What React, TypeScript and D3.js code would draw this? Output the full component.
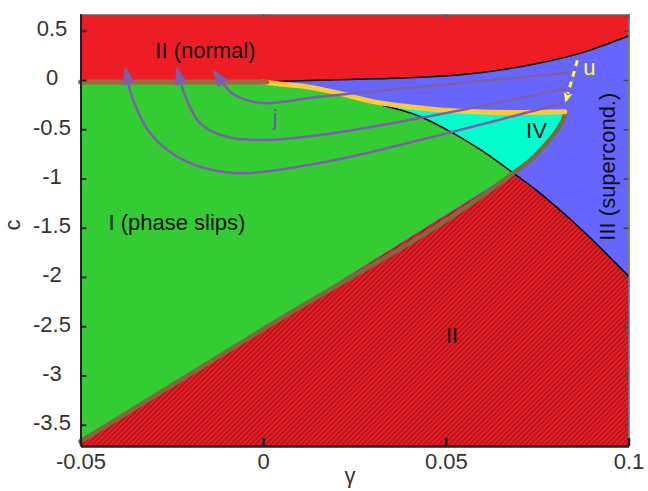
import * as d3 from 'd3'
import React, { useEffect, useRef } from 'react'

const WIDTH = 648
const HEIGHT = 491
const PLOT = { left: 80.5, right: 628.5, top: 14, bottom: 446 }
const FONT = '"Liberation Sans", Arial, Helvetica, sans-serif'

// axis ranges and ticks
const X_DOMAIN: [number, number] = [-0.05, 0.1]
const Y_DOMAIN: [number, number] = [-3.716, 0.67]
const X_TICKS = [-0.05, 0, 0.05, 0.1]
const Y_TICKS = [0.5, 0, -0.5, -1, -1.5, -2, -2.5, -3, -3.5]

type Pt = [number, number]

// II / III boundary (normal above, supercond. below)
const redBoundary: Pt[] = [
  [0, -0.02], [0.01, -0.008], [0.02, 0.002], [0.03, 0.012], [0.047, 0.035],
  [0.0594, 0.074], [0.073, 0.152], [0.0867, 0.27], [0.1, 0.446],
]
// upper edge of phase-slip region, continues as I/III and II/III line
const blackBoundary: Pt[] = [
  [0, -0.02], [0.0028, -0.03], [0.0119, -0.072], [0.021, -0.14], [0.03, -0.225],
  [0.0328, -0.26], [0.0429, -0.37], [0.052, -0.54], [0.06, -0.72], [0.0683, -0.94],
  [0.075, -1.125], [0.08, -1.28], [0.085, -1.445], [0.09, -1.62], [0.095, -1.805], [0.1, -1.99],
]
// lower edge of phase slips and right edge of IV
const brownBoundary: Pt[] = [
  [-0.05, -3.67], [0, -2.53], [0.0683, -0.95], [0.0735, -0.8], [0.0767, -0.68],
  [0.0795, -0.56], [0.0813, -0.46], [0.0823, -0.38], [0.0826, -0.322],
]
// upper edge of IV
const yellowBoundary: Pt[] = [
  [0, -0.02], [0.0028, -0.034], [0.0119, -0.068], [0.021, -0.136], [0.03, -0.22],
  [0.0393, -0.27], [0.0484, -0.305], [0.0565, -0.32], [0.07, -0.33], [0.0826, -0.322],
]
const normalLine: Pt[] = [[-0.05, -0.02], [0.001, -0.02]]

// trajectories j, from the right end to the arrow
const trajInner: Pt[] = [
  [0.0854, 0.081], [0.0429, -0.072], [0.0155, -0.17], [0.001, -0.237],
  [-0.003, -0.22], [-0.0083, -0.14], [-0.0111, -0.03],
]
const trajMiddle: Pt[] = [
  [0.0834, -0.084], [0.0429, -0.386], [0.0155, -0.559], [0, -0.609],
  [-0.01, -0.576], [-0.0173, -0.437], [-0.0209, -0.203], [-0.0225, -0.03],
]
const trajOuter: Pt[] = [
  [0.0821, -0.234], [0.0429, -0.61], [0.0155, -0.843], [-0.0083, -0.944],
  [-0.0219, -0.812], [-0.031, -0.538], [-0.0356, -0.204], [-0.0369, -0.03],
]
const uArrow: Pt[] = [[0.086, 0.2], [0.0834, -0.14]]

const labels = [
  { text: 'II (normal)', at: [-0.0158, 0.22] as Pt, color: '#111', rotate: false },
  { text: 'I (phase slips)', at: [-0.0236, -1.523] as Pt, color: '#111', rotate: false },
  { text: 'j', at: [0.0033, -0.457] as Pt, color: '#6E5A9A', rotate: false },
  { text: 'IV', at: [0.0748, -0.59] as Pt, color: '#111', rotate: false },
  { text: 'II', at: [0.0517, -2.67] as Pt, color: '#111', rotate: false },
  { text: 'III (supercond.)', at: [0.0963, -0.88] as Pt, color: '#111', rotate: true },
  { text: 'u', at: [0.0893, 0.05] as Pt, color: '#FFFF33', rotate: false },
]

const RED = '#EE1C25'
const GREEN = '#33CC33'
const BLUE = '#6666FF'
const CYAN = '#00FFCC'
const PURPLE = '#7D5FA8'

const x = d3.scaleLinear().domain(X_DOMAIN).range([PLOT.left, PLOT.right])
const y = d3.scaleLinear().domain(Y_DOMAIN).range([PLOT.bottom, PLOT.top])

const smooth = d3.line<Pt>().x(d => x(d[0])).y(d => y(d[1])).curve(d3.curveMonotoneX)
const free = d3.line<Pt>().x(d => x(d[0])).y(d => y(d[1])).curve(d3.curveCatmullRom.alpha(0.5))
const straight = d3.line<Pt>().x(d => x(d[0])).y(d => y(d[1]))
const polygon = d3.line<Pt>().x(d => x(d[0])).y(d => y(d[1])).curve(d3.curveLinearClosed)

const CROSS = 0.0328 // yellow meets the black line
const CORNER = 0.0683 // brown meets the black line

const redTop: Pt[] = [[X_DOMAIN[0], Y_DOMAIN[1]], [X_DOMAIN[1], Y_DOMAIN[1]], ...redBoundary.slice().reverse(), [X_DOMAIN[0], -0.02]]
const greenArea: Pt[] = [
  [X_DOMAIN[0], -0.02],
  ...blackBoundary.filter(d => d[0] <= CORNER),
  ...brownBoundary.filter(d => d[0] < CORNER).reverse(),
]
const hatchArea: Pt[] = [
  ...brownBoundary.filter(d => d[0] <= CORNER),
  ...blackBoundary.filter(d => d[0] > CORNER),
  [X_DOMAIN[1], Y_DOMAIN[0]], [X_DOMAIN[0], Y_DOMAIN[0]],
]
const cyanArea: Pt[] = [
  ...yellowBoundary.filter(d => d[0] >= CROSS),
  ...brownBoundary.filter(d => d[0] > CORNER).reverse().slice(1),
  ...blackBoundary.filter(d => d[0] >= CROSS && d[0] <= CORNER).reverse(),
]

export default function App() {
  const leftRef = useRef<SVGGElement>(null)
  const bottomRef = useRef<SVGGElement>(null)
  const rightRef = useRef<SVGGElement>(null)
  const topRef = useRef<SVGGElement>(null)

  useEffect(() => {
    const fmt = (d: any) => String(d)

    const top = d3.select(topRef.current!)
    top.call(d3.axisTop(x).tickValues(X_TICKS).tickSizeInner(-5).tickSizeOuter(0).tickFormat(() => ''))
    top.select('.domain').attr('stroke', '#888').attr('stroke-width', 1)
    top.selectAll('.tick line').attr('stroke', '#555').attr('stroke-width', 1.5)

    const right = d3.select(rightRef.current!)
    right.call(d3.axisRight(y).tickValues(Y_TICKS).tickSizeInner(-5).tickSizeOuter(0).tickFormat(() => ''))
    right.select('.domain').attr('stroke', '#666').attr('stroke-width', 1.5)
    right.selectAll('.tick line').attr('stroke', '#444').attr('stroke-width', 1.5)

    const left = d3.select(leftRef.current!)
    left.call(d3.axisLeft(y).tickValues(Y_TICKS).tickSizeInner(-6).tickSizeOuter(0).tickFormat(fmt))
    left.attr('font-size', 22).attr('font-family', FONT)
    left.select('.domain').attr('stroke', '#222').attr('stroke-width', 2)
    left.selectAll('.tick line').attr('stroke', '#222').attr('stroke-width', 2)
    left.selectAll('.tick text')
      .attr('x', 52 - PLOT.left)
      .attr('dy', 5)
      .attr('text-anchor', 'middle')
      .attr('fill', '#333')

    const bottom = d3.select(bottomRef.current!)
    bottom.call(d3.axisBottom(x).tickValues(X_TICKS).tickSizeInner(-8).tickSizeOuter(0).tickFormat(fmt))
    bottom.attr('font-size', 22).attr('font-family', FONT)
    bottom.select('.domain').attr('stroke', '#222').attr('stroke-width', 2.5)
    bottom.selectAll('.tick line').attr('stroke', '#222').attr('stroke-width', 2.5)
    bottom.selectAll('.tick text').attr('y', 23).attr('dy', 0).attr('fill', '#333')
  }, [])

  const blackVisible = blackBoundary.filter(d => d[0] >= CROSS - 0.001)

  return (
    <svg
      width={WIDTH}
      height={HEIGHT}
      style={{ position: 'absolute', left: 0, top: 0, background: '#fff' }}
      fontFamily={FONT}
    >
      <defs>
        <pattern id="hatch" patternUnits="userSpaceOnUse" width="3.6" height="3.6" patternTransform="rotate(45)">
          <rect width="3.6" height="3.6" fill={RED} />
          <line x1="1.8" y1="0" x2="1.8" y2="3.6" stroke="#4a0a0c" strokeWidth="0.9" strokeOpacity="0.75" />
        </pattern>
        <marker id="arrowP" viewBox="0 0 18 13" refX="1" refY="6.5" markerWidth="18" markerHeight="13"
          markerUnits="userSpaceOnUse" orient="auto">
          <path d="M0,0 L18,6.5 L0,13 Z" fill={PURPLE} />
        </marker>
        <marker id="arrowY" viewBox="0 0 10 10" refX="1" refY="5" markerWidth="10" markerHeight="10"
          markerUnits="userSpaceOnUse" orient="auto">
          <path d="M0,0.5 L10,5 L0,9.5 L2.5,5 Z" fill="#FFFF33" />
        </marker>
      </defs>

      <rect x={PLOT.left} y={PLOT.top} width={PLOT.right - PLOT.left} height={PLOT.bottom - PLOT.top} fill={BLUE} />
      <path d={polygon(redTop)!} fill={RED} />
      <path d={polygon(greenArea)!} fill={GREEN} />
      <path d={polygon(cyanArea)!} fill={CYAN} />
      <path d={polygon(hatchArea)!} fill="url(#hatch)" />

      <path d={smooth(redBoundary)!} fill="none" stroke="#000" strokeWidth={1.5} />
      <path d={smooth(blackVisible)!} fill="none" stroke="#000" strokeWidth={1.5} />

      <path d={smooth(brownBoundary)!} fill="none" stroke="#7E6A3E" strokeWidth={4.5} strokeLinecap="round" />
      <path d={smooth(yellowBoundary)!} fill="none" stroke="#FFC83C" strokeWidth={5} strokeLinecap="round" />
      <path d={straight(normalLine)!} fill="none" stroke="#9E6941" strokeWidth={5} strokeLinecap="round" />

      {[trajInner, trajMiddle, trajOuter].map((t, i) => (
        <path key={i} d={free(t)!} fill="none" stroke={PURPLE} strokeWidth={2.5} markerEnd="url(#arrowP)" />
      ))}

      <path d={straight(uArrow)!} fill="none" stroke="#FFFF33" strokeWidth={3} strokeDasharray="6 5" markerEnd="url(#arrowY)" />

      {labels.map(l => (
        <text
          key={l.text}
          x={x(l.at[0])}
          y={y(l.at[1])}
          fontSize={22}
          fill={l.color}
          textAnchor="middle"
          transform={l.rotate ? `rotate(-90 ${x(l.at[0])} ${y(l.at[1])})` : undefined}
        >
          {l.text}
        </text>
      ))}

      <g ref={topRef} transform={`translate(0,${PLOT.top})`} />
      <g ref={rightRef} transform={`translate(${PLOT.right},0)`} />
      <g ref={leftRef} transform={`translate(${PLOT.left},0)`} />
      <g ref={bottomRef} transform={`translate(0,${PLOT.bottom})`} />

      <text x={20} y={225} fontSize={22} fill="#333" textAnchor="middle" transform="rotate(-90 20 225)">c</text>
      <text x={350} y={483} fontSize={22} fill="#333" textAnchor="middle">γ</text>
    </svg>
  )
}
